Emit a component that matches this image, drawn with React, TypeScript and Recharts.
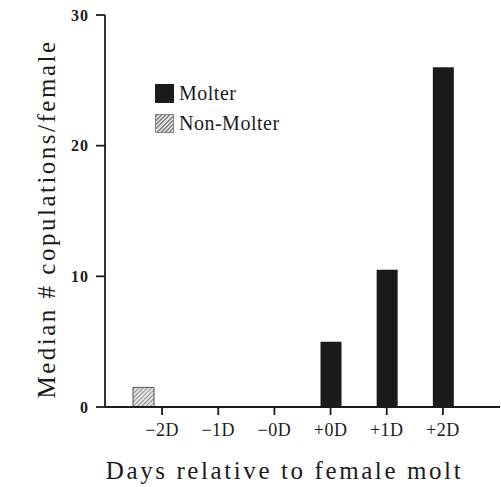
import { BarChart, Bar, XAxis, YAxis, Legend } from 'recharts';

// days relative to the female's molt
const days = ['−2D', '−1D', '−0D', '+0D', '+1D', '+2D'];
const molter = [0, 0, 0, 5, 10.5, 26];
const nonMolter = [1.5, 0, 0, 0, 0, 0];
const yTicks = [0, 10, 20, 30];

const data = days.map((day, i) => ({ day, molter: molter[i], nonMolter: nonMolter[i] }));

const FONT = '"Liberation Serif", "DejaVu Serif", serif';
const INK = '#1b1b1b';

function LegendBox() {
  const item = (swatch: React.CSSProperties, label: string) => (
    <div style={{ display: 'flex', alignItems: 'center', height: 30 }}>
      <span style={{ width: 19, height: 19, display: 'inline-block', boxSizing: 'border-box', ...swatch }} />
      <span style={{ marginLeft: 5, fontFamily: FONT, fontSize: 20, letterSpacing: 0.5, color: INK }}>{label}</span>
    </div>
  );
  return (
    <div>
      {item({ background: INK }, 'Molter')}
      {item(
        {
          border: '1px solid #888',
          background: 'repeating-linear-gradient(-45deg, #ddd 0 1.5px, #888 1.5px 3px)',
        },
        'Non-Molter',
      )}
    </div>
  );
}

export default function App() {
  return (
    <div style={{ position: 'absolute', left: 0, top: 0, background: '#fff' }}>
      <BarChart
        width={501}
        height={487}
        data={data}
        margin={{ top: 15, right: 1, bottom: 0, left: 0 }}
        barCategoryGap={0}
      >
        <defs>
          <pattern id="hatch" width="3" height="3" patternUnits="userSpaceOnUse" patternTransform="rotate(45)">
            <rect width="3" height="3" fill="#e2e2e2" />
            <line x1="0" y1="0" x2="0" y2="3" stroke="#777" strokeWidth="1.4" />
          </pattern>
        </defs>
        <XAxis
          xAxisId="m"
          dataKey="day"
          height={80}
          padding={{ left: 29, right: 29 }}
          stroke={INK}
          strokeWidth={1.8}
          tickSize={8}
          tick={{ fontFamily: FONT, fontSize: 18, fill: INK, dy: 6, letterSpacing: 0.5 }}
          label={{ value: 'Days relative to female molt', position: 'center', dx: -18, dy: 23, fontFamily: FONT, fontSize: 25, fill: INK, letterSpacing: 2.6 }}
        />
        <XAxis xAxisId="n" dataKey="day" hide padding={{ left: 10, right: 48 }} />
        <YAxis
          domain={[0, 30]}
          ticks={yTicks}
          width={105}
          stroke={INK}
          strokeWidth={1.8}
          tickSize={9}
          tickMargin={7}
          tick={{ fontFamily: FONT, fontSize: 16, fontWeight: 'bold', fill: INK, letterSpacing: 1 }}
          label={{ value: 'Median # copulations/female', angle: -90, position: 'center', dx: -6, dy: 8, fontFamily: FONT, fontSize: 25, fill: INK, letterSpacing: 2.5 }}
        />
        <Legend
          layout="horizontal"
          verticalAlign="middle"
          align="center"
          wrapperStyle={{ left: 155, top: 78, width: 'auto' }}
          content={() => <LegendBox />}
        />
        <Bar xAxisId="m" dataKey="molter" name="Molter" fill={INK} barSize={21} isAnimationActive={false} />
        <Bar xAxisId="n" dataKey="nonMolter" name="Non-Molter" fill="url(#hatch)" stroke="#555" strokeWidth={1} barSize={21} isAnimationActive={false} />
      </BarChart>
    </div>
  );
}
